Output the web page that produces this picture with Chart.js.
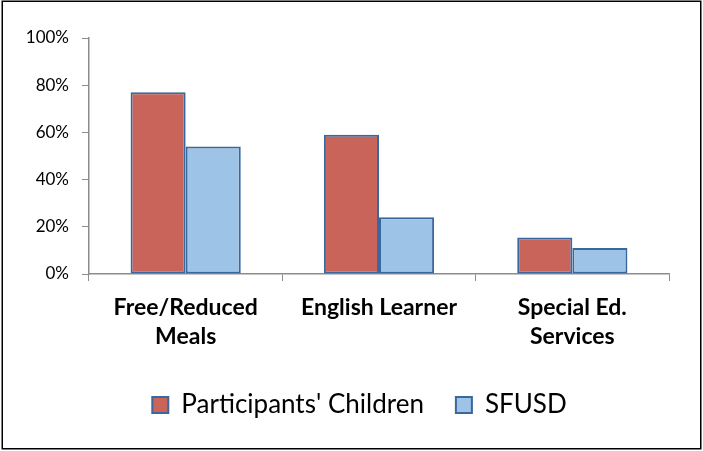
<!DOCTYPE html>
<html><head><meta charset="utf-8">
<script src="https://cdn.jsdelivr.net/npm/chart.js@4/dist/chart.umd.min.js"></script>
<style>html,body{margin:0;padding:0;background:#fff}#wrap{position:relative;width:703px;height:451px}</style>
</head><body><div id="wrap"><canvas id="c" width="703" height="451"></canvas></div>
<script>
const categories = [["Free/Reduced","Meals"],"English Learner",["Special Ed.","Services"]];
const seriesNames = ["Participants' Children","SFUSD"];
const participants = [0.77, 0.59, 0.155];
const sfusd = [0.54, 0.24, 0.11];
const yTicks = [0, 0.2, 0.4, 0.6, 0.8, 1.0];

const FONT = "Lato, 'Open Sans', sans-serif";
const frame = {id:'frame',
  afterUpdate(ch){ if(ch.legend){ ch.legend.left += 50; } },
  afterDraw(ch){const c=ch.ctx;c.save();c.strokeStyle='#000';c.lineWidth=1.5;c.strokeRect(2.25,1.25,698.5,447.5);c.restore();}};
new Chart(document.getElementById('c'), {
  type:'bar',
  data:{labels:categories, datasets:[
    {label:seriesNames[0], data:participants, backgroundColor:'#c9645a', borderColor:'#3a679e', borderWidth:2, borderSkipped:false, categoryPercentage:0.57, barPercentage:1},
    {label:seriesNames[1], data:sfusd, backgroundColor:'#9dc3e6', borderColor:'#3a679e', borderWidth:2, borderSkipped:false, categoryPercentage:0.57, barPercentage:1}
  ]},
  options:{
    responsive:false, animation:false, devicePixelRatio:1,
    layout:{padding:{left:0,right:34,top:38,bottom:23}},
    plugins:{legend:{position:'bottom', labels:{font:{family:FONT,size:26}, color:'#000', boxWidth:16, boxHeight:16, padding:32}}, tooltip:{enabled:false}},
    scales:{
      x:{grid:{offset:true, drawOnChartArea:false, color:'#8c8c8c', tickLength:7, tickColor:'#8c8c8c'}, border:{color:'#8c8c8c', width:1.5},
         ticks:{font:{family:FONT,size:23,weight:'bold',lineHeight:1.22}, color:'#000', padding:13, maxRotation:0},
         afterFit(s){s.height=86;}},
      y:{min:0,max:1, afterBuildTicks(s){s.ticks=yTicks.map(v=>({value:v}));},
         grid:{drawOnChartArea:false, color:'#8c8c8c', tickLength:7, tickColor:'#8c8c8c'}, border:{color:'#8c8c8c', width:1.5},
         ticks:{font:{family:FONT,size:17}, color:'#000', padding:13, callback:v=>Math.round(v*100)+'%'},
         afterFit(s){s.width=89;}}
    }
  },
  plugins:[frame]
});
</script></body></html>
